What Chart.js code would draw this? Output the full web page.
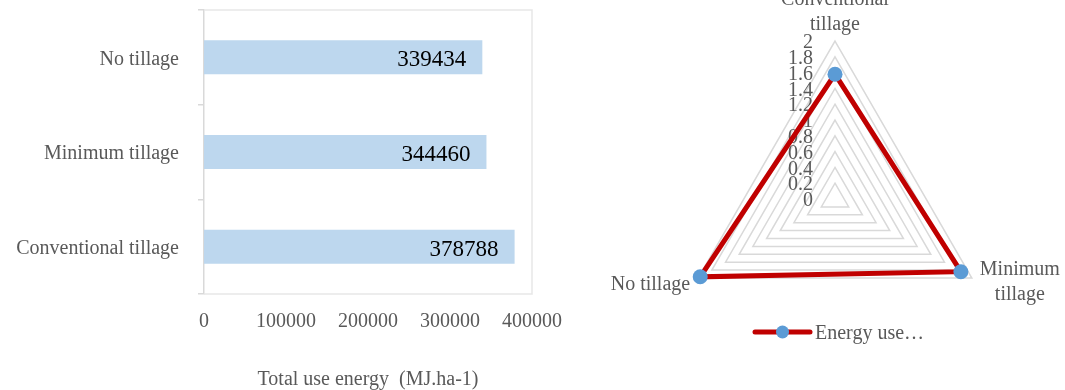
<!DOCTYPE html>
<html>
<head>
<meta charset="utf-8">
<script src="https://cdn.jsdelivr.net/npm/chart.js@4.4.1/dist/chart.umd.min.js"></script>
<style>
  html, body { margin: 0; padding: 0; background: #ffffff; }
  body { width: 1065px; height: 390px; position: relative; overflow: hidden; }
  #barWrap { position: absolute; left: 0; top: 0; width: 580px; height: 390px; }
  #radarWrap { position: absolute; left: 580px; top: 0; width: 485px; height: 390px; }
</style>
</head>
<body>
<div id="barWrap"><canvas id="bar"></canvas></div>
<div id="radarWrap"><canvas id="radar"></canvas></div>
<script>
// ---- Data: bar chart (top to bottom) ----
const barCategories = ['No tillage', 'Minimum tillage', 'Conventional tillage'];
const barValues = [339434, 344460, 378788];
const barTickLabels = ['0', '100000', '200000', '300000', '400000'];
const barAxisTitle = 'Total use energy  (MJ.ha-1)';

// ---- Data: radar chart (clockwise from top) ----
const radarCategories = [['Conventional', 'tillage'], ['Minimum', 'tillage'], ['No tillage']];
const radarValues = [1.58, 1.84, 1.97];
const radarTickLabels = ['0', '0.2', '0.4', '0.6', '0.8', '1', '1.2', '1.4', '1.6', '1.8', '2'];
const radarSeriesName = 'Energy use…';

const FONT = '"Liberation Serif", "Times New Roman", serif';
const GRAY = '#595959';

// Plot area border + data labels for the bar chart
const barExtras = {
  id: 'barExtras',
  beforeDatasetsDraw(chart) {
    const {ctx, chartArea: a} = chart;
    ctx.save();
    ctx.strokeStyle = '#e7e7e7';
    ctx.lineWidth = 1.5;
    ctx.beginPath();
    ctx.moveTo(a.left, a.top);
    ctx.lineTo(a.right, a.top);
    ctx.lineTo(a.right, a.bottom);
    ctx.lineTo(a.left, a.bottom);
    ctx.stroke();
    ctx.restore();
  },
  afterDatasetsDraw(chart) {
    const {ctx} = chart;
    const meta = chart.getDatasetMeta(0);
    const data = chart.data.datasets[0].data;
    ctx.save();
    ctx.font = '23px ' + FONT;
    ctx.fillStyle = '#000000';
    ctx.textAlign = 'right';
    ctx.textBaseline = 'middle';
    meta.data.forEach((bar, i) => {
      ctx.fillText(String(data[i]), bar.x - 16, bar.y + 3);
    });
    ctx.restore();
  }
};

new Chart(document.getElementById('bar'), {
  type: 'bar',
  data: {
    labels: barCategories,
    datasets: [{
      data: barValues,
      backgroundColor: '#BDD7EE',
      borderWidth: 0,
      categoryPercentage: 1,
      barPercentage: 0.36
    }]
  },
  options: {
    indexAxis: 'y',
    responsive: true,
    maintainAspectRatio: false,
    animation: false,
    layout: { padding: { left: 0, right: 48, top: 10, bottom: 0 }, autoPadding: false },
    plugins: { legend: { display: false }, tooltip: { enabled: false } },
    scales: {
      x: {
        min: 0, max: 400000,
        ticks: {
          stepSize: 100000, font: { family: FONT, size: 20 }, color: GRAY, padding: 16,
          maxRotation: 0, autoSkip: false,
          callback: (v, i) => barTickLabels[i]
        },
        grid: { display: false, drawTicks: false },
        border: { display: false },
        title: { display: true, text: barAxisTitle, font: { family: FONT, size: 20 }, color: GRAY, padding: { top: 0, bottom: -2 } },
        afterFit(s) { s.height = 96; s.paddingLeft = 0; s.paddingRight = 0; }
      },
      y: {
        ticks: { font: { family: FONT, size: 20 }, color: GRAY, padding: 19, labelOffset: 2 },
        grid: { drawOnChartArea: false, tickLength: 6, color: '#d9d9d9', lineWidth: 1.5 },
        border: { color: '#d9d9d9', width: 1.5 },
        afterFit(s) { s.width = 204; s.paddingTop = 0; s.paddingBottom = 0; }
      }
    }
  },
  plugins: [barExtras]
});

// Radar: tick labels, category labels and legend
const radarExtras = {
  id: 'radarExtras',
  beforeDatasetsDraw(chart) {
    const s = chart.scales.r;
    const ctx = chart.ctx;
    ctx.save();
    ctx.font = '20px ' + FONT;
    ctx.fillStyle = GRAY;
    ctx.textAlign = 'right';
    ctx.textBaseline = 'middle';
    s.ticks.forEach((t, i) => {
      const y = s.yCenter - s.getDistanceFromCenterForValue(t.value);
      ctx.fillText(radarTickLabels[i], s.xCenter - 22, y + 2);
    });
    ctx.restore();
  },
  afterDraw(chart) {
    const s = chart.scales.r;
    const ctx = chart.ctx;
    const labels = chart.data.labels;
    ctx.save();
    ctx.font = '20px ' + FONT;
    ctx.fillStyle = GRAY;
    ctx.textBaseline = 'middle';
    const lh = 25;
    labels.forEach((lines, i) => {
      const p = s.getPointPosition(i, s.drawingArea);
      if (i === 0) {
        ctx.textAlign = 'center';
        lines.forEach((ln, k) => {
          ctx.fillText(ln, p.x, p.y - 16 - (lines.length - 1 - k) * lh);
        });
      } else if (p.x > s.xCenter) {
        const w = Math.max(...lines.map(l => ctx.measureText(l).width));
        ctx.textAlign = 'center';
        lines.forEach((ln, k) => {
          ctx.fillText(ln, p.x + 8 + w / 2, p.y - 8 + k * lh);
        });
      } else {
        ctx.textAlign = 'right';
        lines.forEach((ln, k) => {
          ctx.fillText(ln, p.x - 8, p.y + 7 + k * lh);
        });
      }
    });
    // legend
    const ds = chart.data.datasets[0];
    const lx = s.xCenter - 80;
    const ly = chart.chartArea.bottom - 26;
    ctx.strokeStyle = ds.borderColor;
    ctx.lineWidth = 5;
    ctx.lineCap = 'round';
    ctx.beginPath();
    ctx.moveTo(lx, ly);
    ctx.lineTo(lx + 55, ly);
    ctx.stroke();
    ctx.fillStyle = ds.pointBackgroundColor;
    ctx.beginPath();
    ctx.arc(lx + 27.5, ly, 6.5, 0, Math.PI * 2);
    ctx.fill();
    ctx.fillStyle = GRAY;
    ctx.textAlign = 'left';
    ctx.fillText(ds.label, lx + 60, ly + 2);
    ctx.restore();
  }
};

new Chart(document.getElementById('radar'), {
  type: 'radar',
  data: {
    labels: radarCategories,
    datasets: [{
      label: radarSeriesName,
      data: radarValues,
      borderColor: '#C00000',
      borderWidth: 5,
      backgroundColor: 'rgba(0,0,0,0)',
      fill: false,
      pointBackgroundColor: '#5B9BD5',
      pointBorderWidth: 0,
      pointRadius: 7.5,
      tension: 0
    }]
  },
  options: {
    responsive: true,
    maintainAspectRatio: false,
    animation: false,
    layout: { padding: { left: 97, right: 71, top: 41, bottom: 32 } },
    plugins: { legend: { display: false }, tooltip: { enabled: false } },
    scales: {
      r: {
        min: 0, max: 2,
        ticks: { stepSize: 0.2, display: false },
        grid: { color: '#d9d9d9', lineWidth: 1.5 },
        angleLines: { display: false },
        pointLabels: { display: false }
      }
    }
  },
  plugins: [radarExtras]
});
</script>
</body>
</html>
